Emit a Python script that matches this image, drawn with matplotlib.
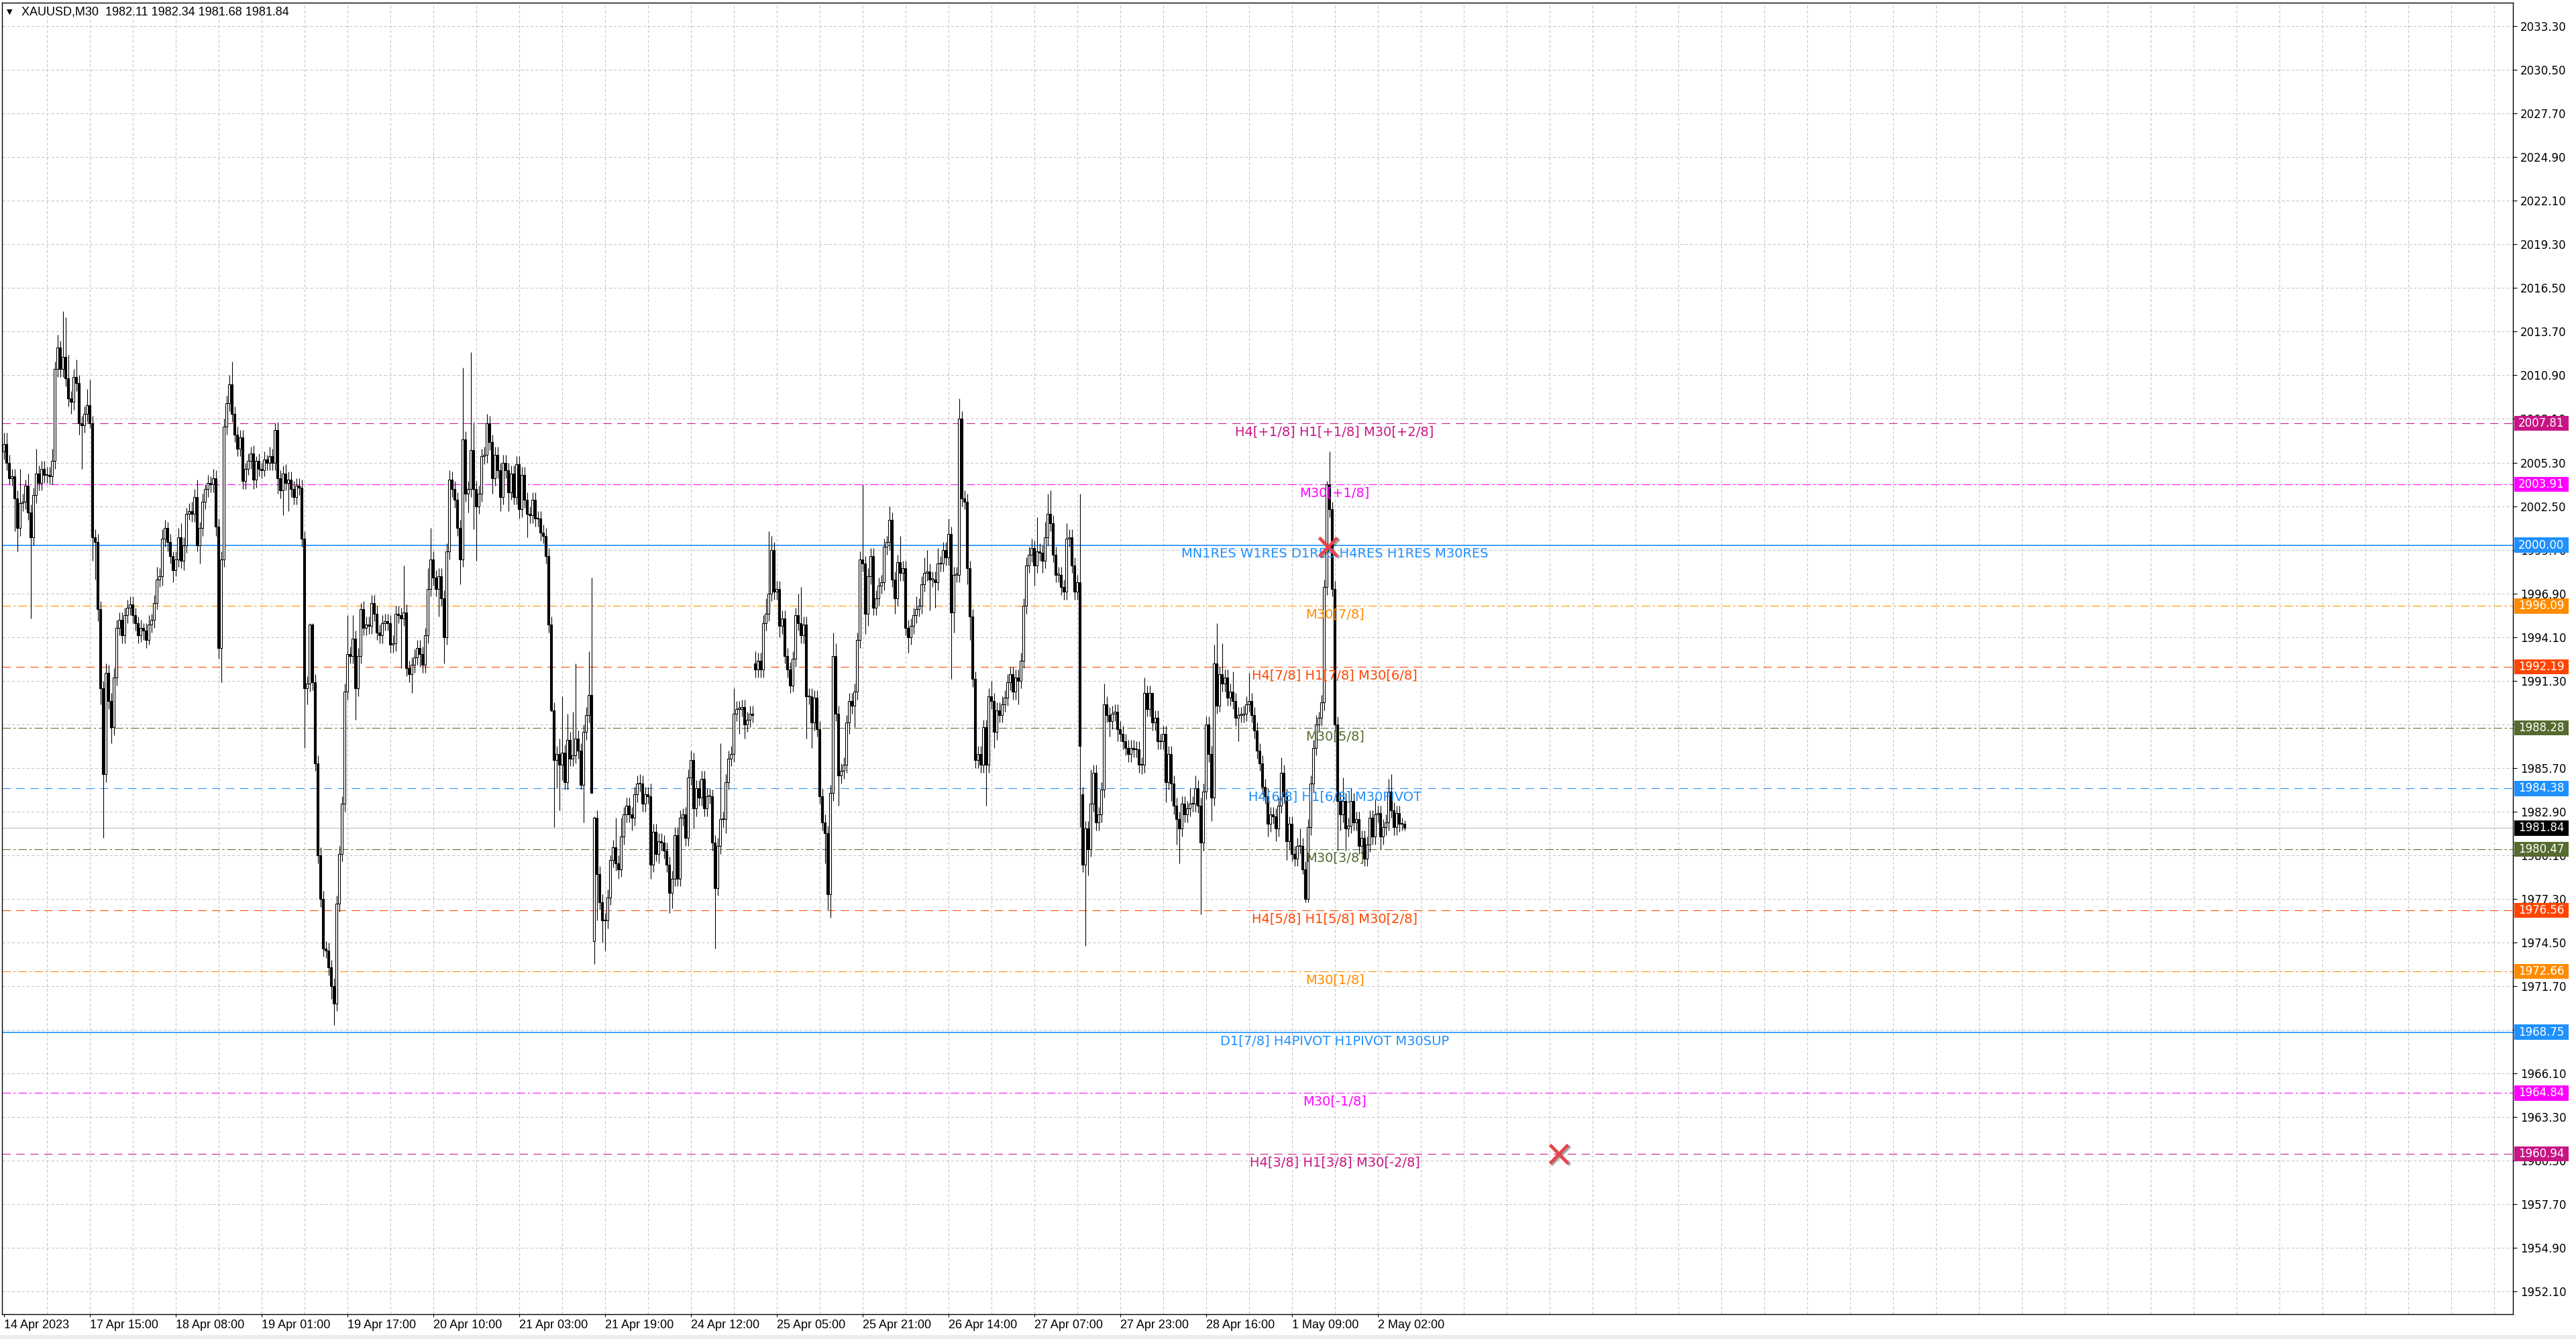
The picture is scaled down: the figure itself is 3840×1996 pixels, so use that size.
import matplotlib
matplotlib.use("Agg")
import matplotlib.pyplot as plt
import matplotlib.patheffects as pe
from matplotlib.patches import Rectangle
import numpy as np

# closing prices of every M30 bar, left to right
closes = [
    2006.5, 2005.3, 2004.3, 2004.4, 2003.0, 2001.1, 2002.7, 2002.8, 2003.8, 2002.1,
    2000.5, 2003.2, 2004.6, 2004.0, 2004.9, 2004.5, 2004.5, 2004.4, 2005.4, 2011.3,
    2012.7, 2011.3, 2012.1, 2010.7, 2009.4, 2009.2, 2010.8, 2010.4, 2007.8, 2007.7,
    2008.4, 2009.0, 2007.8, 2000.5, 2000.2, 1995.9, 1990.8, 1985.3, 1991.8, 1990.0,
    1988.3, 1991.5, 1994.7, 1995.2, 1994.2, 1995.5, 1996.0, 1996.2, 1995.5, 1995.0,
    1994.2, 1994.7, 1994.5, 1993.9, 1994.9, 1995.2, 1996.3, 1997.8, 1998.0, 2000.4,
    2001.1, 2000.2, 1999.3, 1998.4, 1999.1, 2000.5, 1999.0, 2000.0, 2002.0, 2002.2,
    2002.0, 2003.1, 2000.0, 2001.1, 2002.8, 2003.6, 2004.0, 2003.9, 2004.3, 2001.2,
    1993.4, 1999.1, 2007.6, 2009.1, 2010.3, 2008.4, 2007.1, 2006.2, 2006.9, 2004.1,
    2004.9, 2005.4, 2005.9, 2004.2, 2005.4, 2004.9, 2004.8, 2005.5, 2005.3, 2005.7,
    2005.3, 2007.4, 2004.3, 2003.5, 2004.6, 2004.0, 2004.2, 2003.6, 2003.1, 2003.8,
    2003.7, 2000.4, 1990.8, 1991.1, 1994.9, 1991.2, 1986.0, 1980.1, 1977.3, 1974.1,
    1974.0, 1972.9, 1971.7, 1970.6, 1977.0, 1980.2, 1983.4, 1990.6, 1993.0, 1992.9,
    1994.0, 1990.8, 1992.9, 1995.9, 1994.7, 1994.9, 1994.8, 1996.3, 1995.6, 1994.4,
    1994.2, 1995.0, 1995.1, 1995.0, 1993.6, 1993.7, 1995.6, 1995.5, 1995.3, 1995.7,
    1992.1, 1991.7, 1992.3, 1992.8, 1993.4, 1993.0, 1992.3, 1994.2, 1997.2, 1999.1,
    1997.9, 1997.2, 1998.0, 1996.6, 1994.1, 1999.6, 2004.2, 2003.6, 2002.9, 2001.1,
    1999.1, 2006.8, 2003.3, 2003.6, 2006.1, 2003.6, 2002.5, 2003.3, 2005.7, 2005.8,
    2007.8, 2006.6, 2004.3, 2005.8, 2004.8, 2003.1, 2005.3, 2004.8, 2003.4, 2004.6,
    2003.1, 2005.2, 2002.3, 2004.5, 2002.9, 2002.0, 2001.9, 2002.9, 2001.7, 2001.7,
    2000.8, 2000.6, 1999.3, 1994.9, 1989.4, 1986.2, 1986.6, 1985.9, 1986.7, 1984.8,
    1987.5, 1986.3, 1986.5, 1987.6, 1986.8, 1984.6, 1988.0, 1989.1, 1990.4, 1984.1,
    1982.5, 1978.9, 1977.1, 1975.9, 1975.9, 1977.4, 1979.8, 1980.6, 1979.6, 1979.2,
    1981.3, 1982.7, 1983.3, 1982.7, 1982.5, 1984.0, 1984.7, 1984.7, 1983.4, 1984.0,
    1983.9, 1979.5, 1981.6, 1980.2, 1981.0, 1980.9, 1980.4, 1979.5, 1977.7, 1978.6,
    1981.4, 1978.6, 1982.5, 1982.7, 1981.2, 1985.1, 1986.2, 1983.1, 1984.4, 1983.8,
    1985.0, 1983.1, 1983.9, 1983.9, 1980.9, 1978.0, 1980.7, 1982.4, 1982.4, 1984.8,
    1986.3, 1986.6, 1989.2, 1989.5, 1989.5, 1989.6, 1988.5, 1988.8, 1989.2, 1989.1,
    1992.0, 1992.6, 1992.0, 1995.0, 1995.6, 1996.9, 1999.7, 1997.0, 1997.2, 1994.8,
    1995.3, 1992.9, 1992.0, 1991.0, 1992.7, 1995.5, 1995.0, 1994.2, 1994.9, 1990.3,
    1990.3, 1988.6, 1990.2, 1988.2, 1983.9, 1982.2, 1981.5, 1977.6, 1984.1, 1992.9,
    1989.2, 1985.2, 1985.5, 1985.9, 1988.6, 1990.0, 1989.7, 1990.6, 1993.9, 1999.1,
    1998.8, 1995.6, 1998.0, 1999.3, 1996.0, 1996.6, 1997.4, 1997.6, 1999.9, 2000.2,
    2001.6, 1997.8, 1996.6, 1998.9, 1998.2, 1998.5, 1994.7, 1994.1, 1994.8, 1995.5,
    1995.9, 1996.1, 1997.5, 1998.2, 1998.3, 1997.8, 1997.8, 1997.6, 1998.8, 1998.8,
    1999.7, 1999.2, 2000.7, 1995.7, 1998.1, 1998.1, 2008.1, 2003.0, 2002.8, 1998.5,
    1995.4, 1991.4, 1986.2, 1986.6, 1985.9, 1988.3, 1985.9, 1990.3, 1990.0, 1988.0,
    1989.4, 1989.1, 1989.8, 1990.2, 1991.2, 1991.7, 1990.6, 1991.5, 1991.3, 1992.6,
    1996.1, 1998.7, 1999.4, 1999.8, 1998.7, 1999.6, 1999.5, 1999.0, 2000.5, 2002.0,
    2001.4, 1999.4, 1998.1, 1998.1, 1997.3, 1997.0, 2000.4, 2000.5, 1998.7, 1997.0,
    1997.6, 1987.1, 1979.5, 1981.8, 1980.5, 1983.4, 1985.4, 1982.2, 1982.7, 1984.3,
    1989.8, 1989.1, 1988.7, 1989.2, 1989.3, 1988.2, 1987.9, 1987.4, 1987.0, 1986.6,
    1987.0, 1986.9, 1986.9, 1985.9, 1985.9, 1990.5, 1989.5, 1990.5, 1988.6, 1988.9,
    1987.4, 1987.4, 1987.9, 1984.8, 1986.6, 1984.7, 1983.3, 1982.4, 1981.8, 1983.4,
    1982.7, 1983.1, 1983.4, 1983.4, 1984.4, 1983.3, 1980.9, 1984.2, 1988.5, 1986.6,
    1983.8, 1992.4, 1989.7, 1991.7, 1991.1, 1991.5, 1990.2, 1990.6, 1990.0, 1988.9,
    1989.1, 1989.1, 1989.2, 1989.8, 1990.0, 1989.1, 1988.1, 1986.8, 1986.0, 1984.5,
    1983.9, 1982.1, 1982.7, 1982.6, 1981.8, 1983.3, 1985.4, 1983.9, 1981.0, 1982.1,
    1980.2, 1979.9, 1980.7, 1980.7, 1979.2, 1977.3, 1981.9, 1984.7, 1987.0, 1988.5,
    1988.9, 1989.9, 1997.3, 2003.9, 2002.3, 1997.2, 1988.5, 1983.6, 1982.7, 1983.6,
    1981.8, 1982.0, 1983.6, 1982.2, 1982.4, 1980.7, 1981.2, 1979.9, 1980.8, 1982.5,
    1981.3, 1982.7, 1982.8, 1981.3, 1981.9, 1982.2, 1984.2, 1983.0, 1981.9, 1982.8,
    1982.1, 1982.11, 1981.84,
]

# wick above the body / below the body, in price units
upper_wick = [
    0.7, 0.7, 0.5, 0.5, 0.5, 0.5, 2.2, 0.5, 0.4, 0.8,
    0.5, 0.5, 1.6, 0.5, 0.5, 0.5, 0.5, 0.5, 0.8, 0.5,
    0.8, 0.4, 2.9, 2.5, 1.5, 0.5, 0.5, 1.1, 0.5, 0.5,
    0.5, 1.0, 1.6, 0.5, 0.5, 0.5, 0.5, 0.5, 0.6, 0.5,
    0.5, 0.6, 0.5, 0.5, 0.5, 0.5, 0.5, 0.5, 0.5, 0.5,
    0.4, 0.5, 0.3, 0.5, 0.6, 0.4, 0.5, 0.8, 0.5, 0.6,
    0.5, 0.4, 0.5, 0.3, 0.5, 0.6, 0.9, 0.5, 0.4, 0.5,
    0.6, 0.5, 1.1, 0.4, 0.5, 0.3, 0.5, 0.4, 0.6, 0.5,
    0.5, 0.5, 0.5, 0.5, 0.6, 1.5, 0.5, 0.5, 0.5, 0.5,
    0.4, 0.5, 0.4, 0.5, 0.3, 0.5, 0.4, 0.5, 0.3, 0.6,
    0.5, 0.4, 0.5, 0.5, 0.5, 0.6, 0.5, 0.5, 0.5, 0.5,
    0.5, 0.5, 0.5, 0.5, 0.1, 0.1, 0.5, 0.5, 0.5, 0.5,
    0.5, 0.5, 0.5, 0.5, 0.5, 0.5, 0.5, 0.5, 2.5, 0.5,
    1.5, 0.5, 0.5, 0.4, 0.5, 0.5, 0.5, 0.5, 0.5, 0.5,
    0.5, 0.5, 0.5, 0.5, 0.5, 0.5, 0.5, 0.5, 0.5, 3.0,
    0.5, 0.5, 0.5, 0.5, 0.5, 0.5, 0.5, 0.5, 1.3, 2.0,
    0.5, 0.5, 0.5, 0.5, 0.5, 0.5, 0.6, 0.5, 0.5, 0.5,
    0.5, 4.6, 0.5, 0.5, 6.3, 1.8, 0.5, 0.5, 0.5, 0.5,
    0.6, 0.5, 0.5, 0.5, 0.5, 0.5, 0.5, 0.5, 0.5, 0.5,
    0.5, 0.5, 0.5, 0.5, 0.5, 0.5, 0.5, 0.5, 0.5, 0.5,
    0.5, 0.5, 0.5, 0.5, 0.5, 0.5, 0.5, 1.0, 3.6, 0.5,
    1.7, 0.5, 2.8, 4.8, 0.5, 0.5, 0.5, 0.5, 2.8, 7.5,
    0.1, 0.5, 0.5, 0.5, 0.5, 0.5, 0.3, 0.5, 1.9, 0.5,
    1.2, 0.5, 0.5, 0.5, 0.5, 0.5, 0.5, 0.6, 0.5, 0.5,
    0.5, 0.8, 0.5, 0.5, 0.5, 0.5, 0.5, 0.5, 0.5, 0.5,
    0.5, 0.5, 0.5, 0.4, 0.5, 0.5, 0.6, 0.5, 0.5, 0.5,
    0.5, 0.5, 0.5, 0.5, 0.4, 0.5, 0.5, 4.9, 0.5, 0.5,
    0.5, 0.5, 1.6, 0.5, 0.5, 0.5, 0.5, 0.5, 0.5, 0.5,
    0.8, 0.5, 0.5, 0.5, 1.0, 4.0, 0.9, 0.5, 0.5, 0.5,
    0.5, 0.5, 0.5, 0.5, 0.5, 0.5, 1.4, 2.3, 0.5, 0.5,
    0.5, 0.5, 0.5, 0.5, 0.5, 0.5, 0.5, 0.5, 0.5, 1.5,
    0.8, 0.5, 0.5, 0.5, 0.5, 0.5, 0.5, 0.5, 0.5, 0.5,
    4.8, 0.5, 0.5, 0.5, 0.5, 0.5, 0.5, 0.5, 0.5, 0.4,
    0.9, 0.5, 0.5, 0.5, 1.7, 0.5, 0.5, 0.5, 0.5, 0.5,
    0.8, 0.5, 0.5, 1.0, 1.4, 0.5, 0.5, 0.5, 1.0, 0.5,
    0.5, 0.5, 1.0, 0.5, 0.5, 0.5, 1.3, 0.5, 0.5, 0.5,
    0.5, 0.5, 0.5, 0.5, 0.5, 0.5, 0.5, 0.5, 1.0, 0.5,
    0.5, 0.5, 0.5, 0.5, 0.5, 0.5, 0.5, 0.5, 0.5, 0.5,
    0.5, 0.5, 0.5, 0.6, 0.5, 2.2, 0.5, 0.5, 1.0, 1.3,
    1.5, 0.5, 0.5, 0.5, 0.5, 0.5, 1.0, 0.5, 0.5, 0.5,
    0.5, 5.7, 0.5, 0.5, 0.5, 2.2, 0.5, 0.5, 0.5, 0.5,
    1.3, 0.5, 0.5, 0.5, 0.5, 0.5, 0.5, 0.5, 0.5, 0.5,
    0.5, 0.5, 0.5, 0.5, 0.5, 1.0, 0.5, 0.5, 0.0, 0.5,
    0.5, 0.5, 0.5, 0.5, 0.5, 0.5, 0.5, 0.5, 0.5, 0.5,
    0.5, 0.5, 1.0, 0.5, 0.8, 0.5, 0.5, 0.5, 0.5, 0.5,
    0.5, 1.2, 2.6, 0.5, 2.0, 0.5, 0.5, 0.5, 1.3, 0.5,
    0.5, 0.5, 0.5, 0.5, 1.8, 0.5, 0.5, 0.5, 0.5, 0.5,
    0.5, 0.5, 0.5, 0.5, 0.5, 0.5, 1.0, 0.5, 0.5, 0.5,
    0.5, 0.5, 0.5, 1.1, 0.5, 0.5, 0.5, 0.5, 0.5, 0.6,
    0.4, 0.5, 0.5, 0.2, 2.1, 0.5, 0.5, 0.5, 0.5, 1.5,
    0.5, 0.5, 0.8, 0.5, 0.5, 0.5, 0.5, 0.5, 0.5, 0.5,
    0.5, 1.0, 0.5, 0.5, 0.5, 0.5, 0.8, 1.1, 0.5, 0.5,
    0.5, 0.4, 0.23,
]

lower_wick = [
    0.5, 0.5, 0.4, 0.5, 2.1, 1.5, 0.5, 0.5, 0.5, 0.5,
    5.2, 0.5, 0.5, 0.5, 0.5, 0.5, 0.5, 0.5, 0.5, 0.5,
    0.5, 0.5, 0.5, 0.5, 0.5, 0.8, 0.5, 0.5, 0.7, 2.8,
    0.5, 0.5, 0.3, 1.5, 2.4, 0.8, 1.0, 4.1, 0.5, 0.5,
    1.0, 0.5, 0.5, 0.5, 0.5, 0.5, 0.5, 0.5, 0.5, 0.5,
    0.5, 0.4, 0.6, 0.5, 0.3, 0.5, 0.5, 0.4, 0.5, 0.6,
    0.5, 0.6, 0.5, 0.8, 0.4, 0.5, 0.5, 0.6, 0.5, 0.4,
    0.5, 0.5, 0.4, 1.2, 0.5, 0.5, 0.5, 0.5, 0.5, 0.6,
    0.7, 2.2, 0.5, 0.5, 0.5, 0.5, 0.5, 0.5, 0.5, 0.5,
    0.5, 0.4, 0.5, 0.6, 0.5, 0.5, 0.5, 0.4, 0.5, 0.5,
    0.5, 0.5, 1.0, 0.5, 1.6, 0.5, 1.8, 0.5, 0.5, 0.5,
    0.5, 0.5, 3.8, 1.0, 0.5, 0.5, 0.5, 0.5, 0.5, 0.5,
    0.5, 0.5, 0.8, 1.4, 0.5, 0.5, 0.5, 0.5, 0.5, 0.5,
    0.5, 2.0, 0.5, 0.5, 0.5, 0.5, 0.5, 0.5, 0.5, 0.5,
    0.5, 0.5, 0.5, 0.5, 0.5, 0.5, 0.5, 0.5, 3.2, 0.5,
    0.5, 0.5, 1.2, 0.5, 0.5, 0.8, 0.5, 0.5, 0.5, 0.5,
    0.5, 0.5, 1.8, 0.5, 1.7, 0.5, 0.5, 0.5, 0.5, 0.5,
    1.6, 0.5, 0.5, 1.2, 0.5, 2.6, 3.5, 0.5, 0.5, 0.5,
    0.5, 0.5, 1.0, 0.5, 0.5, 0.9, 0.5, 0.5, 1.2, 0.5,
    0.5, 0.5, 0.6, 0.5, 0.5, 1.5, 0.5, 0.5, 0.5, 0.5,
    0.5, 0.5, 0.5, 0.5, 0.1, 4.3, 1.8, 2.9, 1.0, 0.5,
    0.5, 0.5, 0.5, 0.5, 0.5, 0.3, 2.4, 0.5, 0.5, 0.0,
    1.5, 3.0, 0.5, 1.4, 1.9, 0.5, 0.5, 0.5, 0.5, 0.6,
    0.5, 0.5, 0.5, 0.5, 0.8, 0.5, 0.5, 0.5, 0.5, 0.5,
    0.5, 0.9, 0.5, 0.5, 0.6, 0.5, 0.5, 0.5, 1.3, 1.0,
    0.5, 0.5, 0.5, 0.5, 0.5, 0.5, 0.5, 1.3, 0.5, 0.5,
    0.5, 0.5, 0.5, 0.5, 0.5, 3.9, 0.5, 0.5, 0.5, 0.9,
    0.5, 0.5, 0.5, 0.5, 1.6, 0.5, 0.9, 0.5, 0.5, 0.5,
    0.5, 0.5, 0.5, 0.5, 0.5, 0.5, 0.5, 0.5, 0.5, 0.7,
    0.5, 0.5, 0.5, 0.5, 0.4, 0.5, 0.5, 0.5, 0.5, 2.7,
    0.5, 1.6, 0.5, 0.5, 0.5, 0.5, 1.9, 1.0, 1.5, 0.5,
    0.5, 1.9, 0.5, 0.5, 0.5, 0.7, 0.5, 1.4, 0.5, 0.5,
    0.5, 1.3, 0.8, 0.5, 0.5, 0.5, 0.5, 0.5, 0.5, 0.5,
    0.5, 0.5, 1.0, 0.5, 0.5, 0.5, 0.5, 1.0, 0.5, 0.5,
    0.5, 0.5, 0.5, 0.5, 0.5, 2.0, 0.5, 1.6, 0.5, 0.5,
    0.5, 0.5, 0.5, 4.3, 1.3, 0.5, 0.5, 0.5, 0.5, 1.0,
    1.5, 0.5, 0.5, 0.5, 0.5, 0.5, 2.6, 0.5, 0.5, 1.0,
    0.5, 0.5, 0.5, 0.5, 0.5, 0.5, 0.5, 0.5, 1.5, 0.5,
    0.5, 0.5, 0.5, 0.5, 1.3, 0.5, 0.5, 0.8, 0.5, 0.5,
    0.5, 0.5, 0.5, 0.5, 0.5, 0.5, 0.5, 0.5, 0.5, 0.5,
    0.5, 5.2, 0.5, 5.2, 1.7, 0.5, 0.5, 0.5, 0.5, 0.5,
    0.5, 0.5, 1.0, 0.5, 0.5, 0.8, 0.5, 0.5, 0.5, 0.5,
    0.5, 0.5, 0.5, 0.5, 0.6, 0.5, 0.5, 0.5, 0.5, 0.5,
    0.5, 0.5, 0.5, 1.3, 0.5, 1.1, 0.6, 1.6, 2.2, 0.5,
    0.5, 0.5, 0.5, 0.5, 0.5, 0.5, 4.6, 0.5, 0.5, 0.5,
    1.5, 0.5, 0.5, 0.4, 0.5, 0.5, 0.5, 0.5, 0.5, 0.5,
    1.5, 0.5, 0.5, 0.5, 0.5, 0.5, 0.5, 0.5, 0.5, 0.5,
    0.5, 0.8, 0.5, 0.5, 0.8, 0.5, 0.5, 0.5, 1.2, 0.5,
    0.5, 0.5, 0.5, 0.5, 0.3, 0.2, 0.2, 0.5, 0.5, 0.5,
    0.5, 0.5, 0.5, 0.5, 0.5, 0.5, 0.5, 3.2, 1.0, 0.5,
    1.4, 0.5, 0.5, 0.5, 0.5, 0.5, 0.5, 0.5, 0.5, 0.5,
    0.5, 0.5, 0.5, 0.8, 0.5, 0.5, 0.5, 0.5, 0.5, 0.5,
    0.5, 0.4, 0.16,
]

first_open = 2006.0
gap_opens = {220: 1974.6, 280: 1992.4, 402: 1984.0}

date_labels = ["14 Apr 2023", "17 Apr 15:00", "18 Apr 08:00", "19 Apr 01:00",
               "19 Apr 17:00", "20 Apr 10:00", "21 Apr 03:00", "21 Apr 19:00",
               "24 Apr 12:00", "25 Apr 05:00", "25 Apr 21:00", "26 Apr 14:00",
               "27 Apr 07:00", "27 Apr 23:00", "28 Apr 16:00", "1 May 09:00",
               "2 May 02:00"]
bars_per_label = 32
bars_per_grid = 16

price_ticks = [2033.30, 2030.50, 2027.70, 2024.90, 2022.10, 2019.30, 2016.50,
               2013.70, 2010.90, 2008.10, 2005.30, 2002.50, 1999.70, 1996.90,
               1994.10, 1991.30, 1988.50, 1985.70, 1982.90, 1980.10, 1977.30,
               1974.50, 1971.70, 1968.90, 1966.10, 1963.30, 1960.50, 1957.70,
               1954.90, 1952.10]

levels = [2007.81, 2003.91, 2000.00, 1996.09, 1992.19, 1988.28, 1984.38,
          1980.47, 1976.56, 1972.66, 1968.75, 1964.84, 1960.94]
level_names = ["H4[+1/8] H1[+1/8] M30[+2/8]", "M30[+1/8]",
               "MN1RES W1RES D1RES H4RES H1RES M30RES", "M30[7/8]",
               "H4[7/8] H1[7/8] M30[6/8]", "M30[5/8]",
               "H4[6/8] H1[6/8] M30PIVOT", "M30[3/8]",
               "H4[5/8] H1[5/8] M30[2/8]", "M30[1/8]",
               "D1[7/8] H4PIVOT H1PIVOT M30SUP", "M30[-1/8]",
               "H4[3/8] H1[3/8] M30[-2/8]"]
level_colors = ["#C71585", "#FF00FF", "#1E90FF", "#FF8C00", "#FF4500", "#556B2F",
                "#1E90FF", "#556B2F", "#FF4500", "#FF8C00", "#1E90FF", "#FF00FF",
                "#C71585"]
level_styles = ["dash", "dashdot", "solid", "dashdot", "dash", "dashdot", "dash",
                "dashdot", "dash", "dashdot", "solid", "dashdot", "dash"]
label_bar = 496

current_price = 1981.84
cross_bars = [493.5, 579.5]
cross_prices = [1999.9, 1960.94]

title = "XAUUSD,M30  1982.11 1982.34 1981.68 1981.84"

assert len(closes) == len(upper_wick) == len(lower_wick), (len(closes), len(upper_wick), len(lower_wick))

# ---- candles
n = len(closes)
opens = [first_open] + closes[:-1]
for k, v in gap_opens.items():
    opens[k] = v
o = np.array(opens)
c = np.array(closes)
top = np.maximum(o, c)
bot = np.minimum(o, c)
highs = top + np.array(upper_wick)
lows = bot - np.array(lower_wick)
x = np.arange(n)
up = c >= o

W, H = 3840, 1996
fig = plt.figure(figsize=(W / 100, H / 100), dpi=100)
fig.patch.set_facecolor("white")
left, right, ytop, ybot = 3, 3746, 4, 1959
ax = fig.add_axes([left / W, 1 - ybot / H, (right - left) / W, (ybot - ytop) / H])
ax.set_facecolor("white")
ax.set_xlim(-0.65, 935.1)
ax.set_ylim(1950.65, 2034.81)

# grid
for g in range(bars_per_grid, 936, bars_per_grid):
    ax.axvline(g, color="#c4c4c4", lw=0.75, ls=(0, (4, 3)), zorder=0)
for p in price_ticks:
    ax.axhline(p, color="#c4c4c4", lw=0.75, ls=(0, (4, 3)), zorder=0)

# level lines
dash_map = {"dash": (0, (12, 8)), "dashdot": (0, (12, 4, 3, 4)), "solid": "-"}
for lvl, name, col, st in zip(levels, level_names, level_colors, level_styles):
    lw = 1.2 if st == "solid" else 0.75
    ax.axhline(lvl, color=col, lw=lw, ls=dash_map[st], zorder=1)
    ax.annotate(name, xy=(label_bar, lvl), xytext=(0, -2.5), textcoords="offset points",
                ha="center", va="top", color=col, fontsize=14, zorder=5)

ax.axhline(current_price, color="#c0c0c0", lw=0.8, zorder=1)

ax.vlines(x, lows, highs, color="black", lw=0.8, zorder=3)
heights = np.maximum(top - bot, 0.06)
ax.bar(x[up], heights[up], bottom=bot[up], width=0.62, color="white",
       edgecolor="black", linewidth=0.8, zorder=4)
ax.bar(x[~up], heights[~up], bottom=bot[~up], width=0.62, color="black",
       edgecolor="black", linewidth=0.8, zorder=4)

ax.plot(cross_bars, cross_prices, ls="none", marker="x", ms=20, mew=3.4,
        color="#e8434b", zorder=8,
        path_effects=[pe.SimpleLineShadow(offset=(1.5, -1.5), alpha=0.35), pe.Normal()])

# axes
for s in ax.spines.values():
    s.set_color("black")
    s.set_linewidth(1.0)
ax.set_xticks([i * bars_per_label for i in range(len(date_labels))])
ax.set_xticklabels(date_labels, ha="left", family=["Liberation Sans", "DejaVu Sans"],
                   fontsize=13)
ax.tick_params(axis="x", direction="out", length=3, width=0.8, pad=3)
ax.yaxis.tick_right()
ax.set_yticks(price_ticks)
ax.set_yticklabels([f"{p:.2f}" for p in price_ticks], fontsize=12)
ax.tick_params(axis="y", direction="out", length=4, width=0.8, pad=4)

# price boxes on the right scale
tr = ax.get_yaxis_transform()
box_prices = levels + [current_price]
box_colors = level_colors + ["black"]
for p, col in zip(box_prices, box_colors):
    ax.add_patch(Rectangle((1.0005, p - 0.48), 0.0217, 0.96, transform=tr,
                           facecolor=col, edgecolor="none", clip_on=False, zorder=6))
    ax.text(1.0113, p, f"{p:.2f}", transform=tr, color="white", fontsize=12,
            ha="center", va="center", clip_on=False, zorder=7)

# title
fig.text(10 / W, 1 - 18 / H, "\u25bc", fontsize=8, va="center", ha="left")
fig.text(32 / W, 1 - 18 / H, title, fontsize=13, va="center", ha="left",
         family=["Liberation Sans", "DejaVu Sans"])

fig.patches.append(Rectangle((0, 0), 1, 6 / H, transform=fig.transFigure,
                             facecolor="#ececec", edgecolor="none"))

fig.savefig("out.png", dpi=100)
